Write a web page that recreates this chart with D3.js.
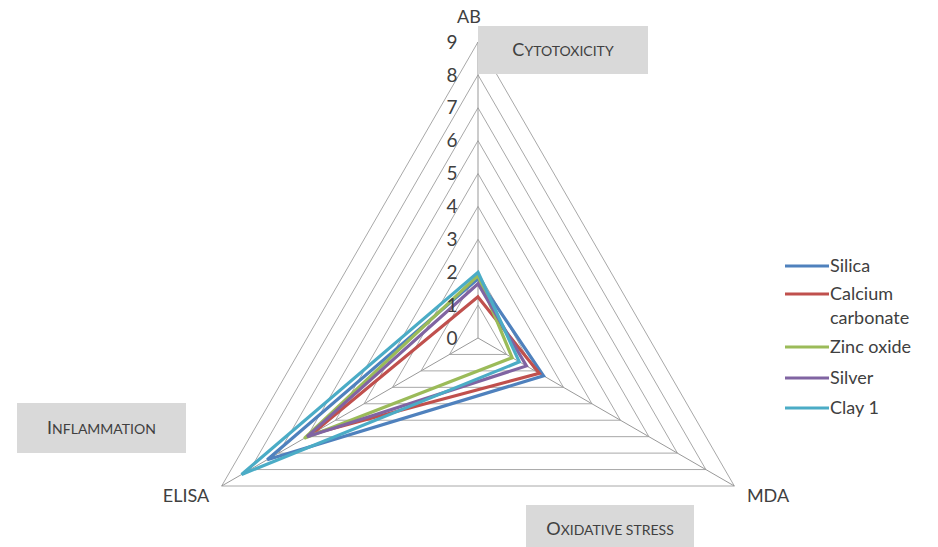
<!DOCTYPE html>
<html>
<head>
<meta charset="utf-8">
<script src="https://cdn.jsdelivr.net/npm/d3@7"></script>
<style>
  body { margin: 0; background: #fff; }
  svg { display: block; font-family: Lato, "Open Sans", sans-serif; }
</style>
</head>
<body>
<div id="chart"></div>
<script>
// axes of the radar, clockwise from top
var axes = ["AB", "MDA", "ELISA"];
var ticks = [0, 1, 2, 3, 4, 5, 6, 7, 8, 9];
var seriesNames = ["Silica", "Calcium carbonate", "Zinc oxide", "Silver", "Clay 1"];
var silica = [1.8, 2.3, 7.4];
var calcium = [1.25, 2.15, 5.85];
var zinc = [1.9, 1.2, 6.1];
var silver = [1.65, 1.7, 6.0];
var clay = [2.0, 1.45, 8.3];
var colors = ["#4F81BD", "#C0504D", "#9BBB59", "#8064A2", "#4BACC6"];

var width = 938, height = 547;
var cx = 478, cy = 338;

var svg = d3.select("#chart").append("svg")
  .attr("width", width)
  .attr("height", height);

var r = d3.scaleLinear().domain([0, 9]).range([0, 296]);
var angle = d3.scaleOrdinal().domain(axes).range([-90, 30, 150].map(function(d) { return d * Math.PI / 180; }));

function pt(axis, v) {
  var a = angle(axis);
  return [cx + r(v) * Math.cos(a), cy + r(v) * Math.sin(a)];
}

var g = svg.append("g");

// grid triangles
g.selectAll(".grid").data(ticks.slice(1)).enter().append("polygon")
  .attr("points", function(t) { return axes.map(function(a) { return pt(a, t).join(","); }).join(" "); })
  .attr("fill", "none")
  .attr("stroke", "#a8a8a8")
  .attr("stroke-width", 1);

// spokes
g.selectAll(".spoke").data(axes).enter().append("line")
  .attr("x1", cx).attr("y1", cy)
  .attr("x2", function(a) { return pt(a, 9)[0]; })
  .attr("y2", function(a) { return pt(a, 9)[1]; })
  .attr("stroke", "#999")
  .attr("stroke-width", 1);

// series
var series = [silica, calcium, zinc, silver, clay];
var line = d3.line().curve(d3.curveLinearClosed);
g.selectAll(".series").data(series).enter().append("path")
  .attr("d", function(vals) { return line(vals.map(function(v, i) { return pt(axes[i], v); })); })
  .attr("fill", "none")
  .attr("stroke", function(d, i) { return colors[i]; })
  .attr("stroke-width", 3.2)
  .attr("stroke-linejoin", "miter");

// tick labels along AB axis
g.selectAll(".tick").data(ticks).enter().append("text")
  .attr("x", cx - 26)
  .attr("y", function(t) { return pt("AB", t)[1]; })
  .attr("dy", "0.35em")
  .attr("text-anchor", "middle")
  .attr("font-size", 19)
  .attr("fill", "#404040")
  .text(function(t) { return t; });

// axis labels
var axisLabelPos = { "AB": [469, 23, "middle"], "MDA": [768, 502, "middle"], "ELISA": [186, 502, "middle"] };
g.selectAll(".axlab").data(axes).enter().append("text")
  .attr("x", function(a) { return axisLabelPos[a][0]; })
  .attr("y", function(a) { return axisLabelPos[a][1]; })
  .attr("text-anchor", function(a) { return axisLabelPos[a][2]; })
  .attr("font-size", 18)
  .attr("fill", "#404040")
  .text(function(a) { return a; });

// category boxes (small caps drawn by hand)
var boxes = [
  { text: "Cytotoxicity", x: 478, y: 26, w: 170, h: 48, ty: 50 },
  { text: "Inflammation", x: 17, y: 403, w: 169, h: 50, ty: 428 },
  { text: "Oxidative stress", x: 526, y: 505, w: 168, h: 48, ty: 529 }
];
var bg = svg.selectAll(".box").data(boxes).enter().append("g");
bg.append("rect")
  .attr("x", function(d) { return d.x; })
  .attr("y", function(d) { return d.y; })
  .attr("width", function(d) { return d.w; })
  .attr("height", function(d) { return d.h; })
  .attr("fill", "#d9d9d9");
bg.each(function(d) {
  var t = d3.select(this).append("text")
    .attr("x", d.x + d.w / 2)
    .attr("y", d.ty)
    .attr("dy", "0.35em")
    .attr("text-anchor", "middle")
    .attr("fill", "#404040");
  t.append("tspan").attr("font-size", 18).text(d.text.charAt(0));
  t.append("tspan").attr("font-size", 14).text(d.text.slice(1).toUpperCase());
});

// legend
var legendRows = [
  { lines: ["Silica"], y: 266 },
  { lines: ["Calcium", "carbonate"], y: 294 },
  { lines: ["Zinc oxide"], y: 347 },
  { lines: ["Silver"], y: 378 },
  { lines: ["Clay 1"], y: 408 }
];
var lg = svg.selectAll(".leg").data(legendRows).enter().append("g");
lg.append("line")
  .attr("x1", 785).attr("x2", 829)
  .attr("y1", function(d) { return d.y; })
  .attr("y2", function(d) { return d.y; })
  .attr("stroke", function(d, i) { return colors[i]; })
  .attr("stroke-width", 3);
lg.each(function(d, i) {
  var t = d3.select(this).append("text")
    .attr("x", 830)
    .attr("y", d.y)
    .attr("font-size", 18)
    .attr("fill", "#404040");
  d.lines.forEach(function(s, j) {
    t.append("tspan").attr("x", 830).attr("dy", j === 0 ? "0.35em" : 24).text(s);
  });
});
</script>
</body>
</html>
